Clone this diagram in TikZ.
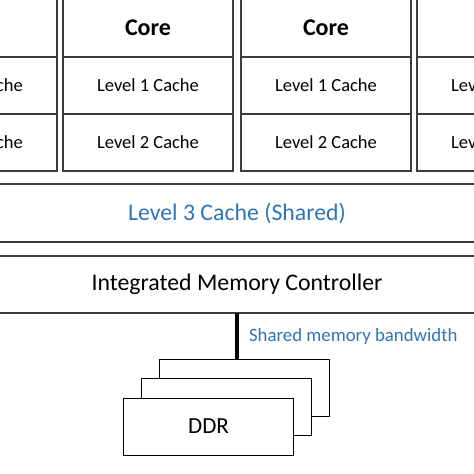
\documentclass[tikz,border=0pt]{standalone}
\usepackage{fontspec}
\setmainfont{Carlito}
\usetikzlibrary{positioning}
\definecolor{sharedblue}{RGB}{46,117,182}
\definecolor{boxline}{RGB}{60,60,60}

\tikzset{
  x=1pt, y=1pt,
  cell/.style     = {shape=rectangle, draw=boxline, line width=1.1pt,
                     minimum width=170pt, minimum height=57pt,
                     inner sep=0pt, outer sep=0pt,
                     font=\fontsize{18.5}{21}\selectfont},
  corecell/.style = {cell, minimum height=58pt,
                     font=\fontsize{24}{28}\selectfont\bfseries},
  band/.style     = {shape=rectangle, draw=boxline, line width=1.1pt,
                     minimum width=520pt, minimum height=57pt,
                     inner sep=0pt, outer sep=0pt,
                     font=\fontsize{23.8}{28}\selectfont},
  ddr/.style      = {shape=rectangle, draw=black, line width=0.9pt, fill=white,
                     minimum width=170pt, minimum height=57pt,
                     inner sep=0pt, outer sep=0pt,
                     font=\fontsize{23}{27}\selectfont},
  bus/.style      = {draw=black, line width=3.5pt}
}

\begin{document}
\begin{tikzpicture}
\useasboundingbox (0,0) rectangle (474,-474);

% one column per core
\foreach \n/\cx in {a/-28, b/148, c/326, d/502} {
  \node [corecell] (core\n) at (\cx,-28) {Core};
  \node [cell, below=0pt of core\n] (lone\n) {Level 1 Cache};
  \node [cell, below=0pt of lone\n] (ltwo\n) {Level 2 Cache};
}

\node [band, minimum height=58pt, text=sharedblue] (lthree) at (237,-213) {Level 3 Cache (Shared)};
\node [band] (imc) at (237,-284.5) {Integrated Memory Controller};

% memory modules, back to front
\node [ddr] (ddrc) at (244,-387.5) {};
\node [ddr] (ddrb) at (226,-406.5) {};
\node [ddr] (ddra) at (208.5,-426.5) {DDR};

\draw [bus] (imc.south) -- (imc.south |- ddrc.north)
  node [midway, right=7pt, text=sharedblue, font=\fontsize{18.8}{22}\selectfont] {Shared memory bandwidth};
\end{tikzpicture}
\end{document}
